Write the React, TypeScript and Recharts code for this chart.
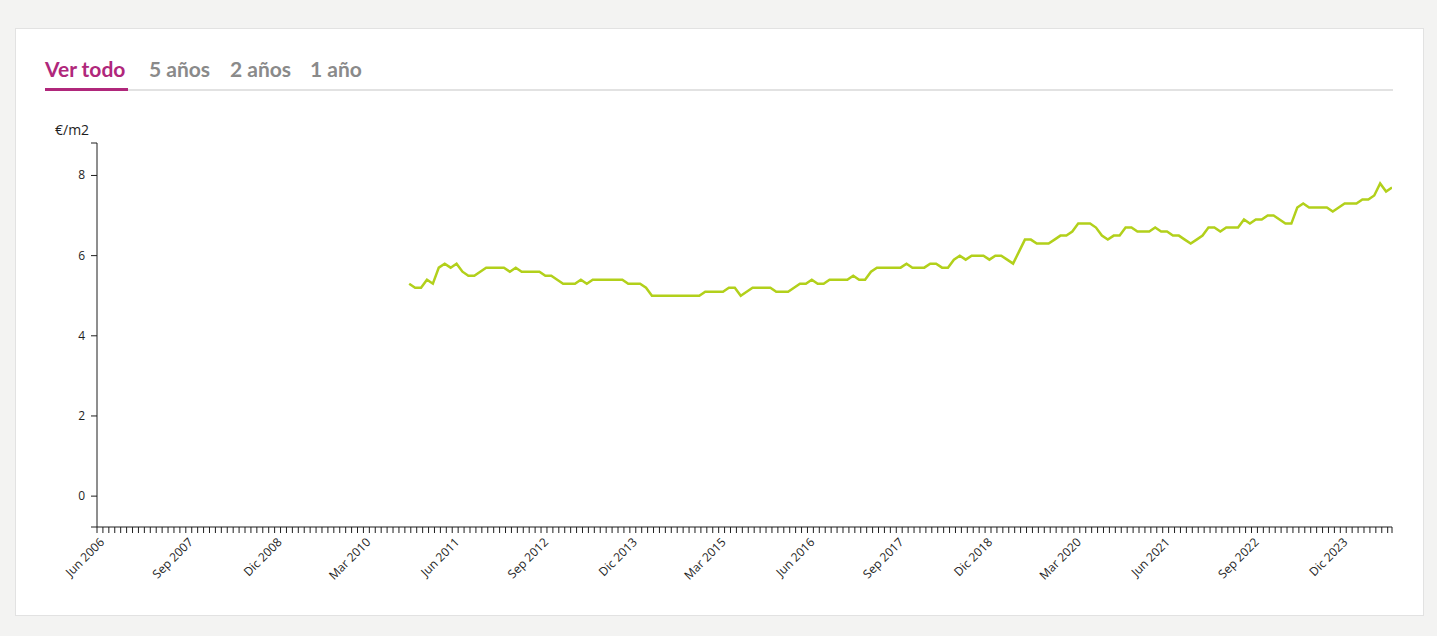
import { CartesianGrid, Line, LineChart, XAxis, YAxis } from "recharts";

// monthly asking price, €/m2, one value per month starting at FIRST_MONTH
const MONTHS_ES = ["Ene", "Feb", "Mar", "Abr", "May", "Jun", "Jul", "Ago", "Sep", "Oct", "Nov", "Dic"];
const AXIS_START = { year: 2006, month: 5 }; // Jun 2006
const FIRST_MONTH = { year: 2010, month: 9 }; // Oct 2010
const LAST_MONTH = { year: 2024, month: 7 }; // Ago 2024

const precioM2 = [
  5.3, 5.2, 5.2, 5.4, 5.3, 5.7, 5.8, 5.7, 5.8, 5.6, 5.5, 5.5,
  5.6, 5.7, 5.7, 5.7, 5.7, 5.6, 5.7, 5.6, 5.6, 5.6, 5.6, 5.5,
  5.5, 5.4, 5.3, 5.3, 5.3, 5.4, 5.3, 5.4, 5.4, 5.4, 5.4, 5.4,
  5.4, 5.3, 5.3, 5.3, 5.2, 5.0, 5.0, 5.0, 5.0, 5.0, 5.0, 5.0,
  5.0, 5.0, 5.1, 5.1, 5.1, 5.1, 5.2, 5.2, 5.0, 5.1, 5.2, 5.2,
  5.2, 5.2, 5.1, 5.1, 5.1, 5.2, 5.3, 5.3, 5.4, 5.3, 5.3, 5.4,
  5.4, 5.4, 5.4, 5.5, 5.4, 5.4, 5.6, 5.7, 5.7, 5.7, 5.7, 5.7,
  5.8, 5.7, 5.7, 5.7, 5.8, 5.8, 5.7, 5.7, 5.9, 6.0, 5.9, 6.0,
  6.0, 6.0, 5.9, 6.0, 6.0, 5.9, 5.8, 6.1, 6.4, 6.4, 6.3, 6.3,
  6.3, 6.4, 6.5, 6.5, 6.6, 6.8, 6.8, 6.8, 6.7, 6.5, 6.4, 6.5,
  6.5, 6.7, 6.7, 6.6, 6.6, 6.6, 6.7, 6.6, 6.6, 6.5, 6.5, 6.4,
  6.3, 6.4, 6.5, 6.7, 6.7, 6.6, 6.7, 6.7, 6.7, 6.9, 6.8, 6.9,
  6.9, 7.0, 7.0, 6.9, 6.8, 6.8, 7.2, 7.3, 7.2, 7.2, 7.2, 7.2,
  7.1, 7.2, 7.3, 7.3, 7.3, 7.4, 7.4, 7.5, 7.8, 7.6, 7.7,
];

const Y_TICKS = [0, 2, 4, 6, 8];
const Y_DOMAIN: [number, number] = [-0.77, 8.81];
const LABEL_EVERY = 15;
const TABS = ["Ver todo", "5 años", "2 años", "1 año"];

// values are sampled late in the month, ticks mark month starts
const SAMPLE_OFFSET = 0.73;

const MAGENTA = "#b0277b";
const LINE_COLOR = "#b2d01b";
const INK = "#1e1e1e";

const monthIndex = (d: { year: number; month: number }) =>
  (d.year - AXIS_START.year) * 12 + (d.month - AXIS_START.month);

const first = monthIndex(FIRST_MONTH);
const last = monthIndex(LAST_MONTH);
const X_DOMAIN: [number, number] = [0, last + SAMPLE_OFFSET];

const data = precioM2.map((v, i) => ({ x: first + i + SAMPLE_OFFSET, v }));

const monthTicks = [...Array.from({ length: last + 1 }, (_, i) => i), X_DOMAIN[1]];

function monthLabel(i: number) {
  const m = AXIS_START.month + i;
  return `${MONTHS_ES[m % 12]} ${AXIS_START.year + Math.floor(m / 12)}`;
}

function MonthTick({ x, y, payload }: any) {
  const i = payload.value;
  if (!Number.isInteger(i) || i % LABEL_EVERY !== 0) return null;
  const ax = x + 8;
  const ay = y + 8;
  return (
    <text
      x={ax}
      y={ay}
      transform={`rotate(-45, ${ax}, ${ay})`}
      textAnchor="end"
      fontSize={12}
      fill={INK}
    >
      {monthLabel(i)}
    </text>
  );
}

function ValueTick({ x, y, payload }: any) {
  if (!Y_TICKS.includes(payload.value)) return null;
  return (
    <text x={x} y={y} dy={4} textAnchor="end" fontSize={12} fill={INK}>
      {payload.value}
    </text>
  );
}

export default function App() {
  return (
    <div
      style={{
        position: "relative",
        width: 1437,
        height: 636,
        background: "#f3f3f2",
        fontFamily: "'Open Sans', sans-serif",
        overflow: "hidden",
      }}
    >
      <style>{"body{margin:0}"}</style>
      <div
        style={{
          position: "absolute",
          left: 15,
          top: 28,
          width: 1409,
          height: 588,
          background: "#fff",
          border: "1px solid #e2e2e2",
          boxSizing: "border-box",
        }}
      />
      <svg width={1437} height={636} style={{ position: "absolute", left: 0, top: 0 }}>
        {TABS.map((t, i) => (
          <text
            key={t}
            x={[45, 149, 230, 310][i]}
            y={77}
            fontFamily="Lato, sans-serif"
            fontWeight={700}
            fontSize={21}
            fill={i === 0 ? MAGENTA : "#8a8a8a"}
          >
            {t}
          </text>
        ))}
        <rect x={128} y={89} width={1265} height={2} fill="#e2e2e2" />
        <rect x={45} y={88} width={83} height={3} fill={MAGENTA} />
        <text x={55} y={135} fontSize={14} fill={INK}>
          €/m2
        </text>
      </svg>
      <div style={{ position: "absolute", left: 0, top: 0 }}>
        <LineChart
          width={1437}
          height={636}
          data={data}
          margin={{ top: 143, right: 45, bottom: 49, left: 37 }}
        >
          <CartesianGrid stroke="none" />
          <XAxis
            dataKey="x"
            type="number"
            domain={X_DOMAIN}
            ticks={monthTicks}
            interval={0}
            height={60}
            tickSize={6}
            tickLine={{ stroke: INK }}
            axisLine={{ stroke: INK }}
            tick={<MonthTick />}
            allowDataOverflow
          />
          <YAxis
            type="number"
            domain={Y_DOMAIN}
            ticks={[Y_DOMAIN[0], ...Y_TICKS, Y_DOMAIN[1]]}
            interval={0}
            width={60}
            tickSize={6}
            tickMargin={6}
            tickLine={{ stroke: INK }}
            axisLine={{ stroke: INK }}
            tick={<ValueTick />}
            allowDataOverflow
          />
          <Line
            type="linear"
            dataKey="v"
            stroke={LINE_COLOR}
            strokeWidth={2.5}
            dot={false}
            isAnimationActive={false}
          />
        </LineChart>
      </div>
    </div>
  );
}
